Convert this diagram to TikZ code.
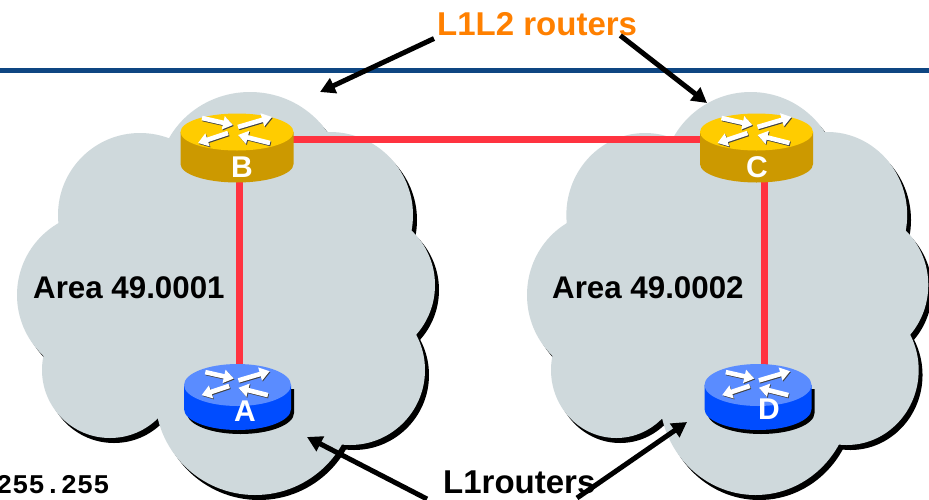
\documentclass[tikz,border=0pt]{standalone}
\usepackage{fontspec}
\setmainfont{Liberation Sans}
\setmonofont{Liberation Mono}
\usetikzlibrary{arrows.meta}
\definecolor{cloudgray}{RGB}{207,217,220}
\definecolor{navyline}{RGB}{14,70,130}
\definecolor{linkred}{RGB}{255,51,64}
\definecolor{ytop}{RGB}{255,204,0}
\definecolor{yside}{RGB}{204,153,0}
\definecolor{btop}{RGB}{90,140,255}
\definecolor{bside}{RGB}{0,76,255}
\definecolor{orng}{RGB}{255,128,0}
\tikzset{
  link/.style={draw=linkred, line width=7pt},
  pointer/.style={draw=black, line width=5pt, -{Triangle[width=16pt,length=15pt]}},
  rarrow/.style={white, line width=4.6pt, -{Triangle[width=13pt,length=10pt]}},
  rarrowsh/.style={black!75, line width=4.6pt, -{Triangle[width=13pt,length=10pt]}},
  rlabel/.style={text=white, font=\fontsize{30}{30}\selectfont\bfseries, inner sep=0},
  bigtext/.style={font=\fontsize{33}{33}\selectfont\bfseries, inner sep=0, anchor=base west},
  areatext/.style={font=\fontsize{31.3}{30}\selectfont\bfseries, inner sep=0, anchor=base west},
  monotext/.style={font=\fontsize{27}{27}\selectfont\ttfamily\bfseries, inner sep=0, anchor=base west},
}
\newcommand\cloudlobes[1]{%
  \foreach \cx/\cy/\rx/\ry in {250/180/92/88, 140/215/82/82, 100/295/83/83, 110/370/68/68, 255/395/100/100, 350/370/75/75, 360/285/75/75, 330/215/83/83}{
    \fill[#1] (\cx,-\cy) ellipse [x radius=\rx, y radius=\ry];
  }
  \fill[#1] (250,-180) -- (330,-215) -- (360,-285) -- (350,-370) -- (255,-395) -- (110,-370) -- (100,-295) -- (140,-215) -- cycle;
}
\newcommand\routericon[9]{% x y rx ry h top side shadow arrowscale
  \begin{scope}[shift={(#1,-#2)}]
    \ifnum#8=1
      \fill[black] (-#3+3,-4) -- (-#3+3,-#5-4) arc[start angle=180,end angle=360,x radius=#3,y radius=#4] -- (#3+3,-4) -- cycle;
    \fi
    \fill[#7] (-#3,0) -- (-#3,-#5) arc[start angle=180,end angle=360,x radius=#3,y radius=#4] -- (#3,0) -- cycle;
    \fill[#6] (0,0) ellipse[x radius=#3,y radius=#4];
    \begin{scope}[scale=#9]
      \foreach \a/\b/\c/\d in {-35/14/-4/7, 1/5/35/15, -9/-1/-39/-11, 33/-11/1/-3}{
        \draw[rarrowsh] (\a+0.8,\b-1) -- (\c+0.8,\d-1);
      }
      \foreach \a/\b/\c/\d in {-35/14/-4/7, 1/5/35/15, -9/-1/-39/-11, 33/-11/1/-3}{
        \draw[rarrow] (\a,\b) -- (\c,\d);
      }
    \end{scope}
  \end{scope}}
\begin{document}
\begin{tikzpicture}[x=1pt,y=1pt]
\useasboundingbox (0,0) rectangle (929,-499);
\fill[white] (0,0) rectangle (929,-499);
% header line
\fill[navyline] (0,-68) rectangle (929,-72.5);
% left cloud
\begin{scope}[shift={(4,-5)}]\cloudlobes{black}\end{scope}
\cloudlobes{cloudgray}
% right cloud
\begin{scope}[xshift=510.68pt, xscale=0.96]
  \begin{scope}[shift={(4,-5)}]\cloudlobes{black}\end{scope}
  \cloudlobes{cloudgray}
\end{scope}
% link ends
\coordinate (B) at (239,-139);
\coordinate (C) at (764,-139);
\coordinate (A) at (239,-385);
\coordinate (D) at (764,-385);
\draw[link] (B) -- (C);
\draw[link] (B) -- (A);
\draw[link] (C) -- (D);
% routers
\routericon{237}{132}{56.5}{18.5}{32}{ytop}{yside}{0}{1}
\routericon{756.5}{132}{56.5}{18.5}{32}{ytop}{yside}{0}{1}
\routericon{237.5}{385}{53.5}{21}{24}{btop}{bside}{1}{0.92}
\routericon{758}{385}{53.5}{21}{24}{btop}{bside}{1}{0.92}
\node[rlabel] (lblB) at (242,-167) {B};
\node[rlabel] (lblC) at (757,-167) {C};
\node[rlabel] (lblA) at (245,-411) {A};
\node[rlabel] (lblD) at (769,-409) {D};
% texts
\node[areatext] (area1) at (33,-298) {Area 49.0001};
\node[areatext] (area2) at (552,-298) {Area 49.0002};
\node[bigtext, text=orng] (l12) at (437,-35) {L1L2 routers};
\node[bigtext] (l1) at (443,-493) {L1routers};
\node[monotext] (mask) at (-4,-493) {255.255};
% pointers
\coordinate (tipB) at (320,-92);
\coordinate (tipC) at (707,-103);
\coordinate (tipA) at (307,-437);
\coordinate (tipD) at (687,-422);
\coordinate (tailA) at (427,-499);
\coordinate (tailD) at (577,-498);
\draw[pointer] ([xshift=-3pt,yshift=-3pt]l12.south west) -- (tipB);
\draw[pointer] ([xshift=-17pt]l12.south east) -- (tipC);
\draw[pointer] (tailA) -- (tipA);
\draw[pointer] (tailD) -- (tipD);
\end{tikzpicture}
\end{document}
